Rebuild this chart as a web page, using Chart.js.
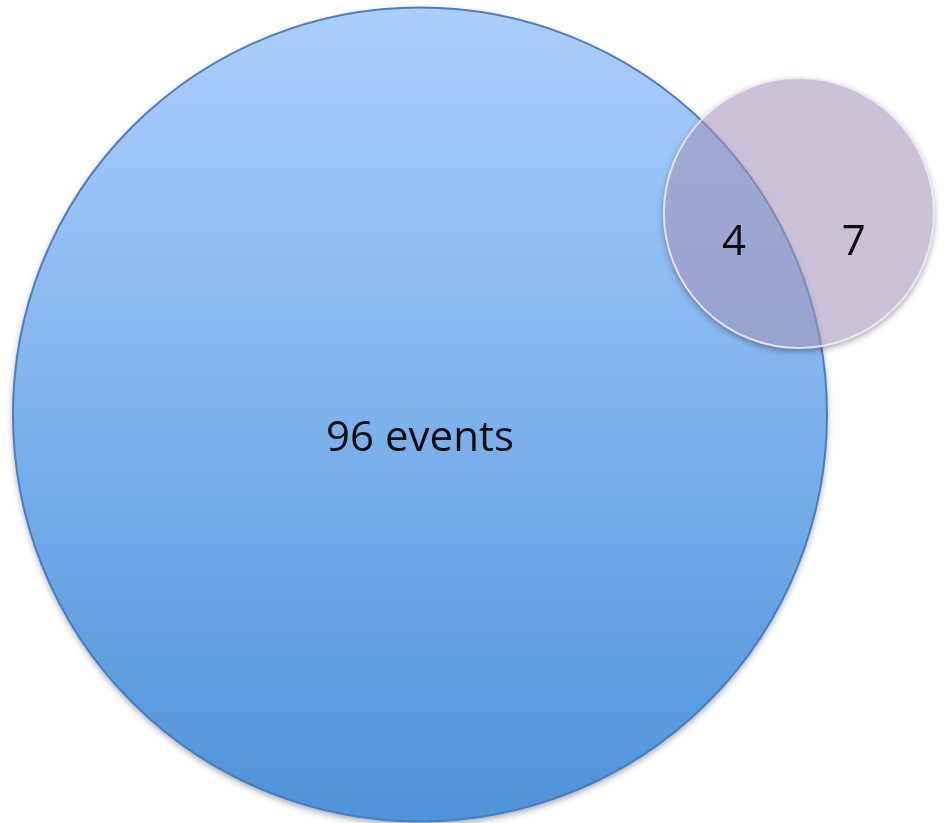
<!DOCTYPE html>
<html>
<head>
<meta charset="utf-8">
<title>Events overlap</title>
<script src="https://cdn.jsdelivr.net/npm/chart.js@4.4.1/dist/chart.umd.min.js"></script>
<style>
  html, body { margin: 0; padding: 0; background: #fff; }
  #wrap { width: 949px; height: 823px; }
</style>
</head>
<body>
<div id="wrap"><canvas id="venn" width="949" height="823"></canvas></div>
<script>
// region counts: big set only, shared, small set only
const regionCounts = [96, 4, 7];
const regionLabels = ['96 events', '4', '7'];

const bigTotal = regionCounts[0] + regionCounts[1];
const smallTotal = regionCounts[1] + regionCounts[2];

// circle area follows the count, so radius = sqrt(count) in axis units
const bigR = Math.sqrt(bigTotal);
const smallR = Math.sqrt(smallTotal);

function lensArea(d, r1, r2) {
  const a = r1 * r1 * Math.acos((d * d + r1 * r1 - r2 * r2) / (2 * d * r1));
  const b = r2 * r2 * Math.acos((d * d + r2 * r2 - r1 * r1) / (2 * d * r2));
  const c = 0.5 * Math.sqrt((-d + r1 + r2) * (d + r1 - r2) * (d - r1 + r2) * (d + r1 + r2));
  return a + b - c;
}

// centre distance where the overlap area equals the shared count
function solveDistance(r1, r2, target) {
  let lo = Math.abs(r1 - r2) + 1e-6;
  let hi = r1 + r2 - 1e-6;
  for (let i = 0; i < 60; i++) {
    const mid = (lo + hi) / 2;
    if (lensArea(mid, r1, r2) > target) {
      lo = mid;
    } else {
      hi = mid;
    }
  }
  return (lo + hi) / 2;
}

const dist = solveDistance(bigR, smallR, Math.PI * regionCounts[1]);
const angle = (28 * Math.PI) / 180;

const bigSet = [{ x: 0, y: 0, count: bigTotal }];
const smallSet = [{ x: dist * Math.cos(angle), y: dist * Math.sin(angle), count: smallTotal }];

// radius comes from the x scale, so it is resolved after layout
function circleRadius(c) {
  const x = c.chart.scales.x;
  if (!c.raw || !x || !c.chart.chartArea) {
    return 0;
  }
  return x.getPixelForValue(Math.sqrt(c.raw.count)) - x.getPixelForValue(0);
}

function bigGradient(c) {
  const chart = c.chart;
  if (!chart.chartArea || !chart.scales.y) {
    return '#7db1ec';
  }
  const y = chart.scales.y;
  const g = chart.ctx.createLinearGradient(0, y.getPixelForValue(bigR), 0, y.getPixelForValue(-bigR));
  g.addColorStop(0, '#abcefc');
  g.addColorStop(0.5, '#7eb2ed');
  g.addColorStop(1, '#4e92d7');
  return g;
}

// soft drop shadow outside each circle only
const shadowPlugin = {
  id: 'softShadow',
  beforeDatasetDraw(chart, args) {
    const { ctx, width, height } = chart;
    args.meta.data.forEach((pt) => {
      const r = pt.options.radius;
      ctx.save();
      ctx.beginPath();
      ctx.rect(0, 0, width, height);
      ctx.arc(pt.x, pt.y, r, 0, Math.PI * 2);
      ctx.clip('evenodd');
      ctx.shadowColor = 'rgba(0,0,0,0.38)';
      ctx.shadowBlur = 7;
      ctx.shadowOffsetY = 3;
      ctx.fillStyle = '#fff';
      ctx.beginPath();
      ctx.arc(pt.x, pt.y, r, 0, Math.PI * 2);
      ctx.fill();
      ctx.restore();
    });
  },
};

const labelPlugin = {
  id: 'regionLabels',
  afterDatasetsDraw(chart) {
    const { ctx } = chart;
    const big = chart.getDatasetMeta(0).data[0];
    const small = chart.getDatasetMeta(1).data[0];
    const R = big.options.radius;
    const r = small.options.radius;

    ctx.save();
    ctx.fillStyle = '#0d0d0d';
    ctx.font = '42px "Open Sans", sans-serif';
    ctx.textAlign = 'center';
    ctx.textBaseline = 'middle';

    ctx.fillText(regionLabels[0], big.x, big.y + R * 0.06);

    // shared and small-only labels sit on one row inside the small circle
    const rowY = small.y + r * 0.22;
    const smallHalf = Math.sqrt(r * r - (rowY - small.y) ** 2);
    const bigEdge = big.x + Math.sqrt(R * R - (rowY - big.y) ** 2);
    ctx.fillText(regionLabels[1], (small.x - smallHalf + bigEdge) / 2 + 6, rowY);
    ctx.fillText(regionLabels[2], (bigEdge + small.x + smallHalf) / 2 - 6, rowY);
    ctx.restore();
  },
};

new Chart(document.getElementById('venn'), {
  type: 'bubble',
  data: {
    datasets: [
      {
        label: 'events',
        data: bigSet,
        order: 1,
        backgroundColor: bigGradient,
        borderColor: 'rgba(66,122,190,0.95)',
        borderWidth: 2,
        radius: circleRadius,
      },
      {
        label: 'other',
        data: smallSet,
        order: 0,
        backgroundColor: 'rgba(163,148,184,0.58)',
        borderColor: 'rgba(238,234,246,0.9)',
        borderWidth: 2,
        radius: circleRadius,
      },
    ],
  },
  options: {
    responsive: false,
    animation: false,
    parsing: false,
    events: [],
    layout: { padding: 0 },
    plugins: {
      legend: { display: false },
      tooltip: { enabled: false },
    },
    scales: {
      x: { type: 'linear', display: false, min: -10.319, max: 12.998 },
      y: { type: 'linear', display: false, min: -10.037, max: 10.184 },
    },
  },
  plugins: [shadowPlugin, labelPlugin],
});
</script>
</body>
</html>
